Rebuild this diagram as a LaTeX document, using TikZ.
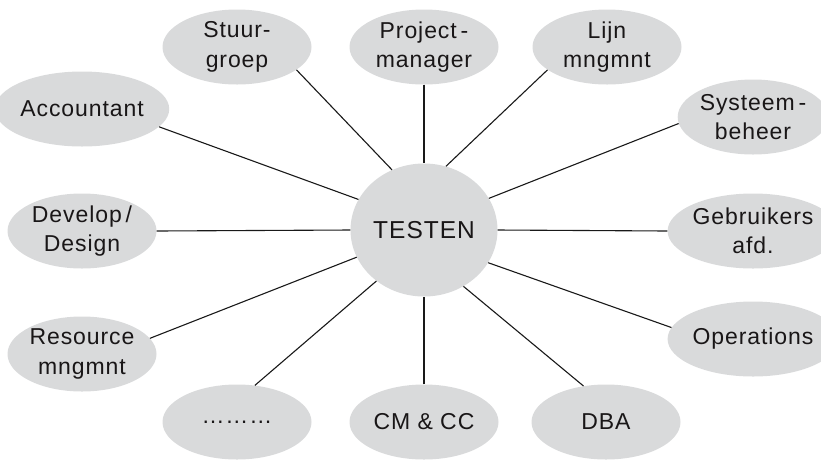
\documentclass[tikz,border=0pt]{standalone}
\usepackage{fontspec}
\setmainfont{Liberation Sans}[LetterSpace=4]
\usetikzlibrary{shapes.geometric}
\definecolor{blobgray}{RGB}{217,218,219}
\definecolor{txt}{RGB}{25,22,23}
\begin{document}
\begin{tikzpicture}[x=1pt,y=-1pt,
  blob/.style={ellipse, fill=blobgray, minimum width=149pt, minimum height=75pt,
    inner sep=0pt, align=center, text=txt, font=\fontsize{23}{29.5}\selectfont},
  rblob/.style={blob, minimum width=144pt},
  link/.style={line width=1.1pt, draw=black!90}]
\path[use as bounding box] (0,0) rectangle (821,459);
\node[blob] (acc) at (82,109) {Accountant};
\node[blob] (stu) at (237,47) {Stuur-\\groep};
\node[blob] (pro) at (424,47) {Project\,-\\manager};
\node[blob] (lij) at (607,47) {Lijn\\mngmnt};
\node[rblob] (sys) at (753,117) {Systeem\,-\\beheer};
\node[rblob] (geb) at (753,231) {Gebruikers\\afd.};
\node[rblob] (ops) at (753,339) {Operations};
\node[blob] (dba) at (606,422) {DBA};
\node[blob] (cm) at (424,422) {CM \& CC};
\node[blob] (dots) at (237,422) {………};
\node[blob] (res) at (82,354) {Resource\\mngmnt};
\node[blob] (dev) at (82,231) {Develop\,/\\Design};
\node[blob, minimum width=147pt, minimum height=133pt,
  font=\fontsize{24.5}{28}\selectfont] (tes) at (424,230) {TESTEN};
\draw[link] (stu.-21) -- (tes.118.6);
\draw[link] (acc.-13.6) -- (tes.155.4);
\draw[link] (dev.0) -- (tes.180);
\draw[link] (res.13.6) -- (tes.202.2);
\draw[link] (dots.64.6) -- (tes.227.9);
\draw[link] (cm.90) -- (tes.270);
\draw[link] (dba.122.3) -- (tes.-55.5);
\draw[link] (ops.172) -- (tes.-27.8);
\draw[link] (geb.180) -- (tes.0);
\draw[link] (sys.185.6) -- (tes.26.4);
\draw[link] (lij.201.5) -- (tes.71);
\draw[link] (pro.270) -- (tes.90);
\end{tikzpicture}
\end{document}
